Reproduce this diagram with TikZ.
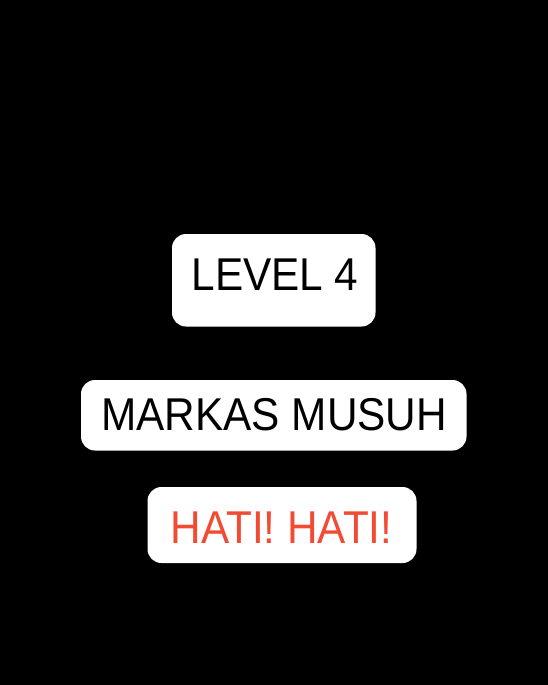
\documentclass[tikz,border=0pt]{standalone}
\usepackage{fontspec}
\setmainfont[FakeStretch=0.92]{Liberation Sans}
\definecolor{warnred}{HTML}{F24B33}
\begin{document}
\begin{tikzpicture}[x=1pt,y=-1pt,
  card/.style={fill=white,rounded corners=14pt,inner sep=0pt,draw=none},
  cardtext/.style={anchor=base,inner sep=0pt,font=\fontsize{46}{50}\selectfont}]
\fill[black] (0,0) rectangle (548,685);
\useasboundingbox (0,0) rectangle (548,685);
\fill[card] (172,234) rectangle (375.5,326.5);
\fill[card] (81,380) rectangle (466.5,450.5);
\fill[card] (147.5,487) rectangle (416.5,563);
\node[cardtext] (lvl) at (275,290.7) {LEVEL 4};
\node[cardtext] (markas) at (274.3,430) {MARKAS MUSUH};
\node[cardtext,text=warnred] (hati) at (281.5,543.3) {HATI! HATI!};
\end{tikzpicture}
\end{document}
